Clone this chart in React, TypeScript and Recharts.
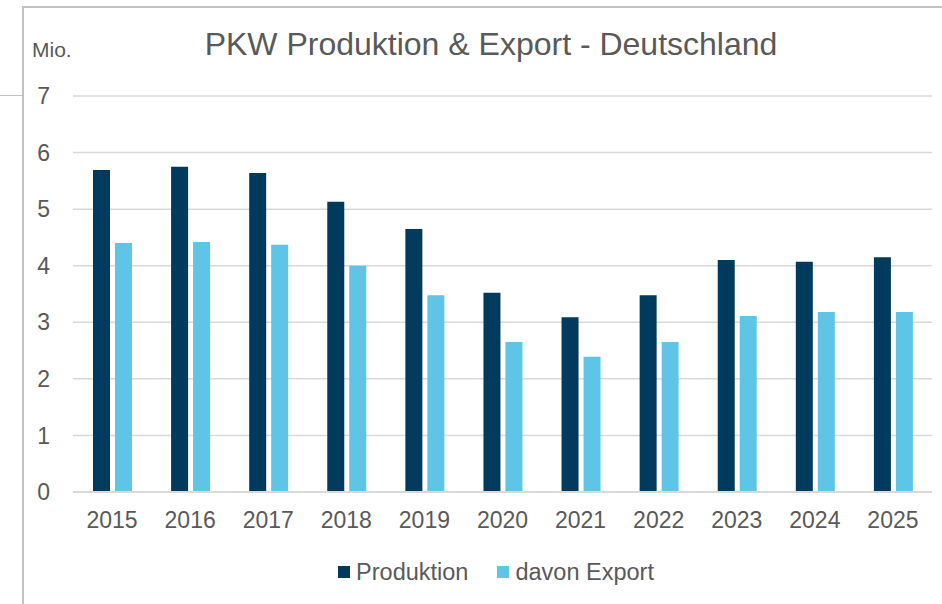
import { BarChart, Bar, XAxis, YAxis, CartesianGrid, Legend } from "recharts";

const years = ["2015", "2016", "2017", "2018", "2019", "2020", "2021", "2022", "2023", "2024", "2025"];
const produktion = [5.69, 5.75, 5.64, 5.13, 4.65, 3.52, 3.09, 3.48, 4.1, 4.07, 4.15];
const export_ = [4.4, 4.42, 4.37, 4.0, 3.48, 2.65, 2.39, 2.65, 3.11, 3.18, 3.18];
const yTicks = [0, 1, 2, 3, 4, 5, 6, 7];

const data = years.map((y, i) => ({ year: y, produktion: produktion[i], export: export_[i] }));

const DARK = "#003a5c";
const LIGHT = "#5ec5e6";
const TEXT = "#595959";
const FONT = "'Liberation Sans', Arial, sans-serif";

const renderLegend = (props: any) => {
  const { payload } = props;
  return (
    <div style={{ display: "flex", justifyContent: "center", alignItems: "center", height: 40, paddingLeft: 60 }}>
      {payload.map((p: any, i: number) => (
        <div key={i} style={{ display: "flex", alignItems: "center", marginRight: i === 0 ? 29 : 0 }}>
          <div style={{ width: 12, height: 12, background: p.color, marginRight: 6 }} />
          <span style={{ color: TEXT, fontSize: 23.5, fontFamily: FONT }}>{p.value}</span>
        </div>
      ))}
    </div>
  );
};

export default function App() {
  return (
    <div style={{ position: "absolute", left: 0, top: 0, width: 942, height: 604, background: "#fff", fontFamily: FONT }}>
      <div style={{ position: "absolute", left: 22, top: 6, right: 0, bottom: 0, borderLeft: "2px solid #bfc3c7", borderTop: "2px solid #bfc3c7" }} />
      <div style={{ position: "absolute", left: 0, top: 95, width: 22, height: 1, background: "#bfc3c7" }} />
      <div style={{ position: "absolute", left: 191, width: 600, top: 26, textAlign: "center", fontSize: 32, color: TEXT, whiteSpace: "nowrap" }}>
        PKW Produktion &amp; Export - Deutschland
      </div>
      <div style={{ position: "absolute", left: 32, top: 38, fontSize: 21, color: TEXT }}>Mio.</div>
      <BarChart
        width={942}
        height={604}
        data={data}
        margin={{ top: 96, right: 10, left: 0, bottom: 12 }}
        barGap={5}
        barSize={17}
        style={{ position: "absolute", left: 0, top: 0 }}
      >
        <CartesianGrid vertical={false} stroke="#d9d9d9" strokeWidth={1.5} />
        <XAxis
          dataKey="year"
          height={60}
          tickLine={false}
          tickSize={0}
          tickMargin={20}
          axisLine={{ stroke: "#d9d9d9", strokeWidth: 2 }}
          tick={{ fill: TEXT, fontSize: 23, fontFamily: FONT }}
          interval={0}
        />
        <YAxis
          width={73}
          domain={[0, 7]}
          ticks={yTicks}
          tickLine={false}
          tickSize={0}
          tickMargin={23}
          axisLine={false}
          tick={{ fill: TEXT, fontSize: 23, fontFamily: FONT }}
        />
        <Legend verticalAlign="bottom" height={40} content={renderLegend} />
        <Bar dataKey="produktion" name="Produktion" fill={DARK} isAnimationActive={false} />
        <Bar dataKey="export" name="davon Export" fill={LIGHT} isAnimationActive={false} />
      </BarChart>
    </div>
  );
}
